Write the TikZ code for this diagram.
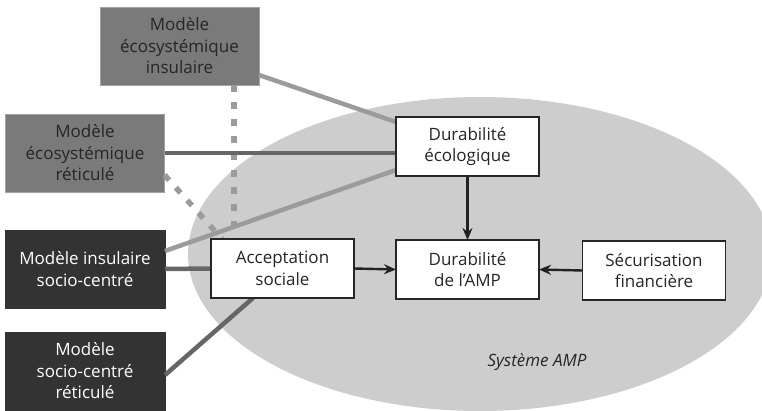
\documentclass[tikz,border=0pt]{standalone}
\usepackage{fontspec}
\setmainfont{Open Sans}
\usetikzlibrary{arrows.meta,calc}
\definecolor{ellgray}{HTML}{CDCDCD}
\definecolor{midbox}{HTML}{7A7A7A}
\definecolor{darkbox}{HTML}{333333}
\definecolor{lightline}{HTML}{9B9B9B}
\definecolor{darkline}{HTML}{666666}
\definecolor{arrowcol}{HTML}{222222}
\tikzset{
  every node/.style={font=\fontsize{17}{21.5}\selectfont, align=center, outer sep=0pt, inner sep=2pt},
  ecobox/.style={fill=midbox, draw=midbox!70!white, line width=0.8pt, text=black!85, minimum width=159pt, minimum height=78pt},
  sociobox/.style={fill=darkbox, draw=darkbox, text=white, minimum width=160pt, minimum height=78pt},
  sysbox/.style={fill=white, draw=black!85, line width=1.3pt, text=black!85, minimum width=143pt, minimum height=59pt},
  lightlink/.style={draw=lightline, line width=4.5pt},
  darklink/.style={draw=darkline, line width=4.5pt},
  dashlink/.style={draw=lightline, line width=5.5pt, dash pattern=on 7pt off 10pt},
  flow/.style={draw=arrowcol, line width=2.4pt, -{Stealth[length=12pt,width=10pt]}}
}
\begin{document}
\begin{tikzpicture}[x=1pt,y=-1pt]
\useasboundingbox (0,0) rectangle (762,411);
\fill[ellgray] (480,254) ellipse [x radius=292, y radius=157];
\node[ecobox] (eI) at (179.5,46) {Modèle\\écosystémique\\insulaire};
\node[ecobox] (eR) at (85,153) {Modèle\\écosystémique\\réticulé};
\node[sociobox] (sI) at (85,269) {Modèle insulaire\\socio-centré};
\node[sociobox] (sR) at (85,371) {Modèle\\socio-centré\\réticulé};
\node[sysbox] (acc) at (282.5,268.5) {Acceptation\\sociale};
\node[sysbox] (de) at (467.5,146.5) {Durabilité\\écologique};
\node[sysbox] (da) at (467.5,269.5) {Durabilité\\de l’AMP};
\node[sysbox] (sf) at (654,270.5) {Sécurisation\\financière};
\node[font=\fontsize{17}{20}\selectfont\itshape, text=black!85] (sys) at (537,362) {Système AMP};
% dashed links
\draw[dashlink] ([xshift=54.5pt]eI.south) -- ([xshift=54.5pt]eI.south |- acc.north);
\draw[dashlink] ([yshift=-22pt]eR.east) -- ([xshift=-60.5pt]acc.north);
% solid links
\draw[lightlink] ([yshift=-29pt]eI.east) -- ([yshift=24.5pt]de.west);
\draw[darklink] (eR.east |- 0,153) -- (de.west |- 0,153);
\draw[lightlink] ([yshift=18pt]sI.east) -- ([yshift=-23.5pt]de.west);
\draw[darklink] (sI.east) -- (acc.west);
\draw[darklink] ([yshift=-4pt]sR.east) -- ([xshift=-29.5pt]acc.south);
% redraw boxes on top
\node[sysbox] at (acc) {Acceptation\\sociale};
\node[sysbox] at (de) {Durabilité\\écologique};
% arrows
\draw[flow] (acc.east) -- (da.west);
\draw[flow] (de.south) -- (da.north);
\draw[flow] (sf.west) -- (da.east);
\end{tikzpicture}
\end{document}
